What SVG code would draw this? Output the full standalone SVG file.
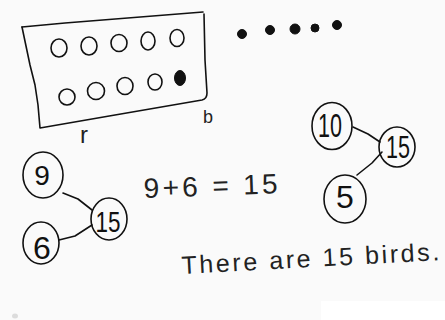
<svg xmlns="http://www.w3.org/2000/svg" width="445" height="320" viewBox="0 0 445 320">
<style>
.ink{fill:none;stroke:#111;stroke-width:1.6;stroke-linecap:round;stroke-linejoin:round}
.dot{fill:#111;stroke:#111;stroke-width:1}
.num{font-family:"Liberation Sans",Arial,sans-serif;fill:#111;text-anchor:middle}
.hand{font-family:"Liberation Sans",Arial,sans-serif;fill:#222}
</style>
<rect width="445" height="320" fill="#fafafa"/>
<rect x="321" y="301" width="124" height="19" fill="#ffffff"/>
<ellipse cx="15" cy="316" rx="3" ry="2.5" fill="#dcdcdc"/>

<!-- ten frame -->
<path class="ink" d="M22,27 L65,23 L203,12"/>
<path class="ink" d="M22,27 L30,65 L35,85 L38,105 L40,128 L115,115 L202,100 Q207,99 207,93 L205,60 L204,14"/>
<g class="ink">
<ellipse cx="59" cy="48" rx="8" ry="9"/>
<ellipse cx="89" cy="46" rx="8" ry="9"/>
<ellipse cx="119" cy="43" rx="8" ry="8.5"/>
<ellipse cx="148" cy="41" rx="7" ry="9"/>
<ellipse cx="177" cy="38" rx="7" ry="8.5"/>
<ellipse cx="67" cy="97" rx="8" ry="8"/>
<ellipse cx="96" cy="91" rx="8.5" ry="8.5"/>
<ellipse cx="125" cy="86" rx="8" ry="8.5"/>
<ellipse cx="155" cy="82" rx="7" ry="8"/>
</g>
<ellipse class="dot" cx="180" cy="78" rx="5.5" ry="7.5"/>
<text class="hand" x="80" y="143" font-size="24">r</text>
<text class="hand" x="203" y="123" font-size="18">b</text>

<!-- birds -->
<g class="dot">
<circle cx="242" cy="34" r="4.5"/>
<circle cx="270" cy="30" r="4.5"/>
<circle cx="295" cy="29" r="5"/>
<circle cx="315" cy="28" r="4"/>
<circle cx="337" cy="25" r="4.5"/>
</g>

<!-- connectors -->
<g id="connectors" class="ink">
<path d="M63,193 L78,199 L92,210"/>
<path d="M59,240 L75,236 L92,225"/>
<path d="M353,127 L368,134 L380,142"/>
<path d="M357,175 L372,163 L382,152"/>
</g>

<!-- left number bond -->
<g id="bond-9">
<ellipse class="ink" cx="43" cy="175" rx="20" ry="23"/>
<text class="num" x="42" y="185" font-size="28">9</text>
</g>
<g id="bond-6">
<ellipse class="ink" cx="41" cy="243" rx="18" ry="21"/>
<text class="num" x="42" y="259" font-size="32">6</text>
</g>
<g id="bond-15-left">
<ellipse class="ink" cx="109" cy="219" rx="18" ry="21"/>
<text class="num" x="108" y="232" font-size="30" textLength="25" lengthAdjust="spacingAndGlyphs">15</text>
</g>

<!-- right number bond -->
<g id="bond-10">
<ellipse class="ink" cx="332" cy="126" rx="20" ry="23.5"/>
<text class="num" x="330" y="137" font-size="33" textLength="24" lengthAdjust="spacingAndGlyphs">10</text>
</g>
<g id="bond-15-right">
<ellipse class="ink" cx="397" cy="147" rx="18" ry="20"/>
<text class="num" x="398" y="158" font-size="32" textLength="24" lengthAdjust="spacingAndGlyphs">15</text>
</g>
<g id="bond-5">
<ellipse class="ink" cx="345" cy="199" rx="21" ry="24"/>
<text class="num" x="345" y="208" font-size="32">5</text>
</g>

<!-- equation and sentence -->
<text class="hand" x="144" y="198" font-size="28" textLength="134" lengthAdjust="spacing" transform="rotate(-2 144 198)">9+6 = 15</text>
<text class="hand" x="182" y="274" font-size="25" textLength="258" lengthAdjust="spacing" transform="rotate(-3.1 182 274)">There are 15 birds.</text>
</svg>
